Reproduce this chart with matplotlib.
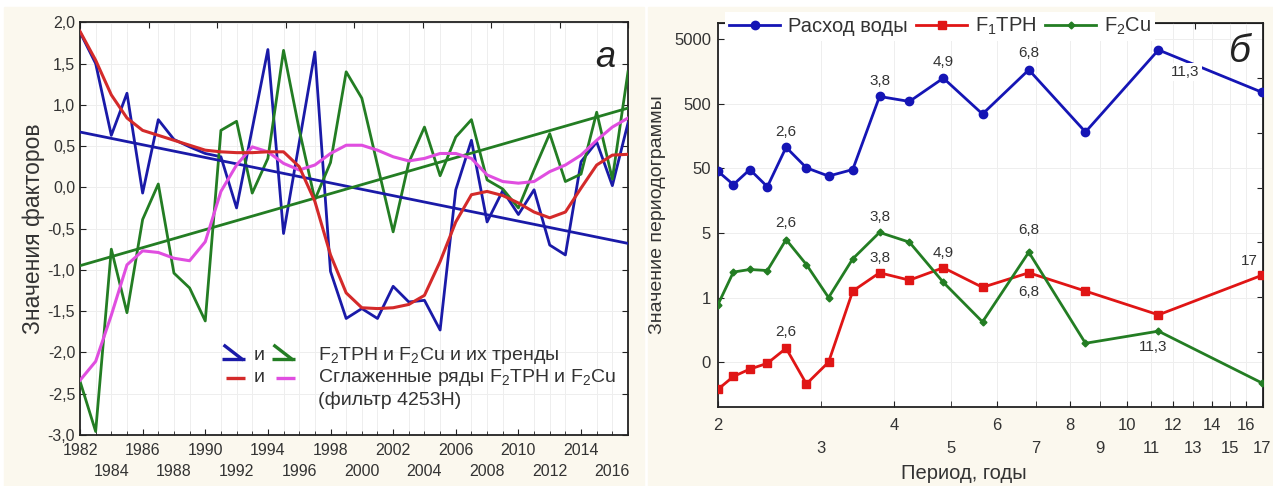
import numpy as np
import matplotlib
matplotlib.use('Agg')
import matplotlib.pyplot as plt
from matplotlib.patches import Rectangle
from matplotlib.ticker import NullLocator

plt.rcParams['font.family'] = ['Liberation Sans', 'DejaVu Sans']
plt.rcParams['mathtext.fontset'] = 'custom'
plt.rcParams['mathtext.rm'] = 'Liberation Sans'
plt.rcParams['mathtext.it'] = 'Liberation Sans:italic'

# ---- panel a: factor series 1982-2017 ----
years = list(range(1982, 2018))
f2tph = [1.88, 1.50, 0.63, 1.14, -0.07, 0.82, 0.58, 0.49, 0.41, 0.37,
         -0.25, 0.71, 1.67, -0.56, 0.54, 1.64, -1.02, -1.59, -1.47, -1.59,
         -1.20, -1.39, -1.37, -1.73, -0.03, 0.57, -0.42, -0.04, -0.33, -0.03,
         -0.70, -0.82, 0.31, 0.55, 0.02, 0.78]
f2cu = [-2.35, -2.96, -0.75, -1.52, -0.39, 0.04, -1.04, -1.22, -1.62, 0.69,
        0.80, -0.07, 0.35, 1.66, 0.70, -0.15, 0.30, 1.40, 1.08, 0.27,
        -0.54, 0.30, 0.73, 0.14, 0.61, 0.82, 0.09, -0.02, -0.25, 0.21,
        0.65, 0.07, 0.16, 0.91, 0.10, 1.40]
f2tph_smooth = [1.89, 1.54, 1.12, 0.84, 0.69, 0.63, 0.57, 0.51, 0.45, 0.43,
                0.42, 0.42, 0.43, 0.43, 0.25, -0.17, -0.82, -1.28, -1.46, -1.47,
                -1.46, -1.42, -1.31, -0.90, -0.42, -0.09, -0.05, -0.10, -0.19, -0.30,
                -0.37, -0.30, -0.01, 0.27, 0.39, 0.40]
f2cu_smooth = [-2.34, -2.11, -1.55, -0.94, -0.77, -0.79, -0.86, -0.89, -0.66, -0.05,
               0.27, 0.49, 0.43, 0.29, 0.21, 0.27, 0.41, 0.51, 0.51, 0.45,
               0.37, 0.32, 0.35, 0.41, 0.41, 0.35, 0.15, 0.07, 0.05, 0.07,
               0.19, 0.27, 0.39, 0.57, 0.73, 0.84]
trend_years = [1982, 2017]
f2tph_trend = [0.67, -0.68]
f2cu_trend = [-0.95, 0.96]

# ---- panel b: periodograms ----
periods = [2.0, 2.125, 2.267, 2.429, 2.615, 2.833, 3.091, 3.4, 3.778, 4.25,
           4.857, 5.667, 6.8, 8.5, 11.33, 17.0]
water = [45, 28, 48, 26, 106, 51, 38, 48, 649, 543, 1248, 347, 1678, 183, 3410, 759]
f1tph = [0.019, 0.030, 0.039, 0.048, 0.082, 0.023, 0.050, 0.63, 1.21, 0.93,
         1.45, 0.72, 1.21, 0.63, 0.27, 1.10]
f2cu_p = [0.39, 1.24, 1.36, 1.31, 3.95, 1.62, 0.50, 1.99, 5.1, 3.6,
          0.86, 0.21, 2.52, 0.098, 0.151, 0.024]
water_peaks = [(4, '2,6'), (8, '3,8'), (10, '4,9'), (12, '6,8'), (14, '11,3')]
f1tph_peaks = [(4, '2,6'), (8, '3,8'), (10, '4,9'), (12, '6,8'), (15, '17')]
f2cu_peaks = [(4, '2,6'), (8, '3,8'), (12, '6,8'), (14, '11,3')]

cream = '#fbf8ee'
blue = '#1a1aa8'
green = '#237d23'
red = '#d42a2a'
magenta = '#e04ee0'
txt = '#333333'
ink = '#222222'

W, H = 1273, 486
fig = plt.figure(figsize=(W / 100, H / 100), dpi=100, facecolor='white')
fig.add_artist(Rectangle((4 / W, 0), 640 / W, 479 / H, transform=fig.transFigure,
                         color=cream, zorder=-5))
fig.add_artist(Rectangle((648 / W, 0), 625 / W, 479 / H, transform=fig.transFigure,
                         color=cream, zorder=-5))


def style_spines(ax):
    for s in ax.spines.values():
        s.set_color(ink)
        s.set_linewidth(1.3)


def two_row_labels(ax, row1, row2, lab1, lab2, pad1, pad2, size):
    # first row on the axis itself, second row on a bare secondary axis
    ax.set_xticks(row1)
    ax.set_xticklabels(lab1)
    ax.tick_params(axis='x', which='major', pad=pad1)
    sec = ax.secondary_xaxis('bottom')
    sec.set_xticks(row2)
    sec.set_xticklabels(lab2)
    sec.xaxis.set_minor_locator(NullLocator())
    sec.tick_params(length=0, pad=pad2, labelsize=size, labelcolor=txt)
    sec.spines['bottom'].set_visible(False)
    return sec


# ================= panel a =================
ax1 = fig.add_axes([80 / W, 1 - 434.8 / H, 548 / W, 412.5 / H])
ax1.set_facecolor('white')
ax1.set_xlim(1982, 2017)
ax1.set_ylim(-3, 2)
style_spines(ax1)

ax1.plot(years, f2tph, color=blue, lw=2, zorder=3)
ax1.plot(years, f2cu, color=green, lw=2, zorder=3)
ax1.plot(trend_years, f2tph_trend, color=blue, lw=2, zorder=3)
ax1.plot(trend_years, f2cu_trend, color=green, lw=2, zorder=3)
ax1.plot(years, f2cu_smooth, color=magenta, lw=2.2, zorder=4)
ax1.plot(years, f2tph_smooth, color=red, lw=2.2, zorder=4)

ax1.set_xticks(years, minor=True)
row1 = list(range(1982, 2017, 4))
row2 = list(range(1984, 2017, 4))
two_row_labels(ax1, row1, row2, [str(y) for y in row1], [str(y) for y in row2],
               6, 21, 11.5)
yt = np.arange(-3, 2.01, 0.5)
ax1.set_yticks(yt)
ax1.set_yticklabels([f'{v:.1f}'.replace('.', ',') for v in yt])
ax1.tick_params(which='both', direction='in', right=True, top=False,
                labelsize=11.5, colors=ink, labelcolor=txt)
ax1.tick_params(which='major', length=4)
ax1.tick_params(which='minor', length=3)
ax1.grid(which='minor', axis='x', color='#eeeeee', lw=0.7)
ax1.grid(which='major', axis='y', color='#eeeeee', lw=0.7)
ax1.set_axisbelow(True)
top1 = ax1.secondary_xaxis('top')
top1.set_xticks(np.linspace(1982, 2017, 9))
top1.tick_params(direction='in', length=4, labeltop=False, colors=ink)
top1.xaxis.set_minor_locator(NullLocator())
ax1.set_ylabel('Значения факторов', fontsize=16.5, color=txt, labelpad=2)
ax1.text(0.958, 0.915, 'а', transform=ax1.transAxes, fontsize=26, style='italic',
         ha='center', va='center', color=ink)


# hand-made legend (series + trend symbols)
def leg_line(ax, xs, ys, color):
    ax.plot(xs, ys, color=color, lw=2.4, transform=ax.transAxes, zorder=6,
            solid_capstyle='butt')


r1, r2, r3 = 0.193, 0.138, 0.084
leg_line(ax1, [0.259, 0.301], [r1 - 0.01, r1 - 0.01], blue)
leg_line(ax1, [0.262, 0.298], [r1 + 0.025, r1 - 0.012], blue)
leg_line(ax1, [0.350, 0.392], [r1 - 0.01, r1 - 0.01], green)
leg_line(ax1, [0.353, 0.389], [r1 + 0.025, r1 - 0.012], green)
leg_line(ax1, [0.266, 0.301], [r2, r2], red)
leg_line(ax1, [0.358, 0.392], [r2, r2], magenta)
for r in (r1, r2):
    ax1.text(0.326, r, 'и', transform=ax1.transAxes, fontsize=14, color=txt,
             ha='center', va='center', zorder=6)
ax1.text(0.434, r1, r'F$_2$TPH и F$_2$Cu и их тренды', transform=ax1.transAxes,
         fontsize=14, color=txt, va='center', zorder=6)
ax1.text(0.434, r2, r'Сглаженные ряды F$_2$TPH и F$_2$Cu', transform=ax1.transAxes,
         fontsize=14, color=txt, va='center', zorder=6)
ax1.text(0.434, r3, '(фильтр 4253H)', transform=ax1.transAxes,
         fontsize=14, color=txt, va='center', zorder=6)

# ================= panel b =================
ax2 = fig.add_axes([718 / W, 1 - 407.3 / H, 545 / W, 384.6 / H])
ax2.set_facecolor('white')
ax2.set_xscale('log')
ax2.set_yscale('log')
ax2.set_xlim(2, 17.1)
ax2.set_ylim(0.01, 9000)
style_spines(ax2)

ax2.plot(periods, water, '-o', color='#1515b5', lw=2, ms=6, label='Расход воды', zorder=3)
ax2.plot(periods, f1tph, '-s', color='#e01515', lw=2, ms=6, label=r'F$_1$TPH', zorder=3)
ax2.plot(periods, f2cu_p, '-D', color=green, lw=2, ms=3.5, label=r'F$_2$Cu', zorder=3)


def mark(ax, xs, ys, peaks, offsets, box=None):
    for (i, lab), (dx, dy) in zip(peaks, offsets):
        ax.annotate(lab, (xs[i], ys[i]), xytext=(dx, dy), textcoords='offset pixels',
                    ha='center', va='center', fontsize=11, color=txt, zorder=5,
                    bbox=box if lab == '11,3' and box else None)


mark(ax2, periods, water, water_peaks,
     [(0, 15), (0, 15), (0, 16), (0, 17), (27, -22)],
     box=dict(facecolor='white', edgecolor='none', pad=1.5))
mark(ax2, periods, f2cu_p, f2cu_peaks, [(0, 17), (0, 15), (0, 22), (-5, -16)])
mark(ax2, periods, f1tph, f1tph_peaks,
     [(0, 16), (0, 15), (0, 15), (0, -19), (-12, 14)])

ax2.set_xticks(range(2, 18), minor=True)
ax2.tick_params(axis='x', which='minor', labelbottom=False)
prow1 = list(range(2, 17, 2))
prow2 = list(range(3, 18, 2))
two_row_labels(ax2, prow1, prow2, [str(v) for v in prow1], [str(v) for v in prow2],
               8, 24, 12)
ax2.set_yticks([5000, 500, 50, 5, 0.5, 0.05])
ax2.set_yticklabels(['5000', '500', '50', '5', '1', '0'])
ax2.yaxis.set_minor_locator(NullLocator())
ax2.tick_params(which='both', direction='in', length=4,
                labelsize=12, colors=ink, labelcolor=txt)
ax2.tick_params(axis='y', pad=5)
ax2.grid(True, which='both', axis='x', color='#eeeeee', lw=0.7)
ax2.grid(True, which='major', axis='y', color='#eeeeee', lw=0.7)
ax2.set_axisbelow(True)
right2 = ax2.secondary_yaxis('right')
right2.set_yticks(10 ** np.linspace(-2, np.log10(9000), 8)[1:-1])
right2.yaxis.set_minor_locator(NullLocator())
right2.tick_params(direction='in', length=4, labelright=False, colors=ink)
top2 = ax2.secondary_xaxis('top')
top2.set_xticks(np.exp(np.linspace(np.log(2), np.log(17.1), 9))[1:-1])
top2.xaxis.set_minor_locator(NullLocator())
top2.tick_params(direction='in', length=4, labeltop=False, colors=ink)
xl = ax2.set_xlabel('Период, годы', fontsize=14.5, color=txt)
xl.set_va('center')
ax2.xaxis.set_label_coords(0.451, -0.173)
ax2.set_ylabel('Значение периодограммы', fontsize=14, color=txt, labelpad=6)
ax2.text(0.958, 0.925, 'б', transform=ax2.transAxes, fontsize=28, style='italic',
         ha='center', va='center', color=ink)
ax2.legend(loc='center left', bbox_to_anchor=(-0.005, 0.99), ncol=3, fontsize=14.5,
           frameon=True, facecolor='white', edgecolor='none', framealpha=1,
           fancybox=False, handlelength=2.5, handletextpad=0.4, columnspacing=0.45,
           borderpad=0.2, labelcolor=txt)

fig.savefig('out.png', dpi=100, facecolor=fig.get_facecolor())
